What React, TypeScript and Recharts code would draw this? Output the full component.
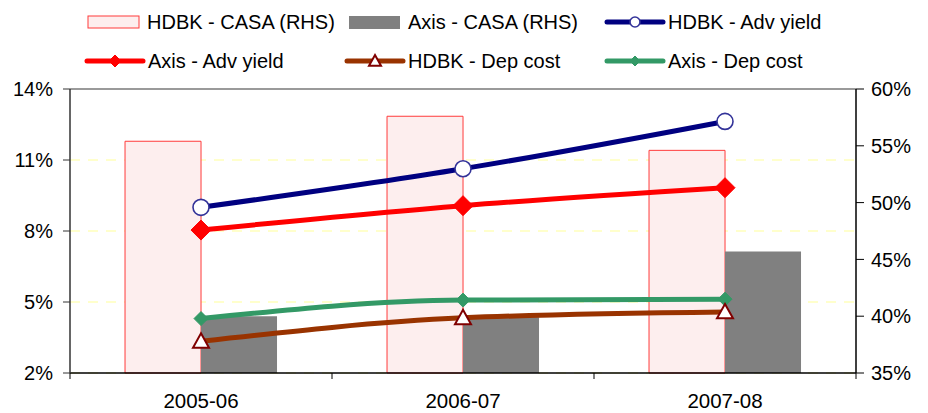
import React from 'react';
import { ComposedChart, Bar, Line, XAxis, YAxis, CartesianGrid, ReferenceLine } from 'recharts';

// Values
const years = ['2005-06', '2006-07', '2007-08'];
const hdbkCasa = [55.4, 57.6, 54.6];
const axisCasa = [40.0, 39.9, 45.7];
const hdbkAdvYield = [9.0, 10.63, 12.63];
const axisAdvYield = [8.04, 9.07, 9.83];
const hdbkDepCost = [3.34, 4.33, 4.58];
const axisDepCost = [4.3, 5.08, 5.12];
const leftTicks = [2, 5, 8, 11, 14];
const rightTicks = [35, 40, 45, 50, 55, 60];

const data = years.map((year, i) => ({
  year,
  hdbkCasa: hdbkCasa[i],
  axisCasa: axisCasa[i],
  hdbkAdvYield: hdbkAdvYield[i],
  axisAdvYield: axisAdvYield[i],
  hdbkDepCost: hdbkDepCost[i],
  axisDepCost: axisDepCost[i],
}));

const FONT = '"Liberation Sans", Arial, sans-serif';

const C = {
  pinkFill: '#FDEEEE',
  pinkStroke: '#FF3B3B',
  gray: '#808080',
  navy: '#000080',
  circleStroke: '#333399',
  red: '#FF0000',
  brown: '#993300',
  triStroke: '#800000',
  green: '#339966',
};

// marker shapes
const circle = (cx: number, cy: number, r: number) => (
  <circle cx={cx} cy={cy} r={r} fill="#fff" stroke={C.circleStroke} strokeWidth={1.6} />
);
const diamond = (cx: number, cy: number, h: number, color: string) => (
  <polygon
    points={`${cx},${cy - h} ${cx + h},${cy} ${cx},${cy + h} ${cx - h},${cy}`}
    fill={color}
    stroke={color}
  />
);
const triangle = (cx: number, cy: number, s: number) => (
  <polygon
    points={`${cx},${cy - s} ${cx + s},${cy + s * 0.8} ${cx - s},${cy + s * 0.8}`}
    fill="#fff"
    stroke={C.triStroke}
    strokeWidth={2}
  />
);

const legendItems = [
  { label: 'HDBK - CASA (RHS)', kind: 'pinkBar', x: 88, row: 0 },
  { label: 'Axis - CASA (RHS)', kind: 'grayBar', x: 349, row: 0 },
  { label: 'HDBK - Adv yield', kind: 'navy', x: 607, row: 0 },
  { label: 'Axis - Adv yield', kind: 'red', x: 87, row: 1 },
  { label: 'HDBK - Dep cost', kind: 'brown', x: 347, row: 1 },
  { label: 'Axis - Dep cost', kind: 'green', x: 607, row: 1 },
];

function LegendIcon({ kind, x, y }: { kind: string; x: number; y: number }) {
  if (kind === 'pinkBar')
    return <rect x={x} y={y - 6} width={51} height={12} fill={C.pinkFill} stroke={C.pinkStroke} strokeWidth={1} />;
  if (kind === 'grayBar') return <rect x={x} y={y - 6} width={51} height={13} fill={C.gray} />;
  const color = { navy: C.navy, red: C.red, brown: C.brown, green: C.green }[kind] as string;
  const mid = x + 28;
  return (
    <g>
      <line x1={x} y1={y} x2={x + 56} y2={y} stroke={color} strokeWidth={5} strokeLinecap="round" />
      {kind === 'navy' && circle(mid, y, 5)}
      {kind === 'red' && diamond(mid, y, 6, C.red)}
      {kind === 'brown' && triangle(mid, y, 6)}
      {kind === 'green' && diamond(mid, y, 5, C.green)}
    </g>
  );
}

function ChartLegend() {
  const rowY = [22, 61];
  return (
    <svg width={928} height={80} style={{ position: 'absolute', left: 0, top: 0 }}>
      {legendItems.map((it) => {
        const y = rowY[it.row];
        const textX = it.kind.endsWith('Bar') ? it.x + 59 : it.x + 61;
        return (
          <g key={it.label}>
            <LegendIcon kind={it.kind} x={it.x} y={y} />
            <text x={textX} y={y} dy="0.36em" fontSize={20} fontFamily={FONT} fill="#000">
              {it.label}
            </text>
          </g>
        );
      })}
    </svg>
  );
}

// category label plus the Excel-style tick marks on the category boundaries
const TICK_MARGIN = 20;
function YearTick(props: any) {
  const { x, y, payload, index, visibleTicksCount } = props;
  const half = payload?.offset ?? 0;
  const axisY = y - TICK_MARGIN;
  const mark = (mx: number) => (
    <line x1={mx} x2={mx} y1={axisY} y2={axisY + 6} stroke="#000" strokeWidth={1} />
  );
  return (
    <g>
      {half > 0 && mark(x - half)}
      {half > 0 && index === visibleTicksCount - 1 && mark(x + half)}
      <text x={x} y={y} dy="0.71em" textAnchor="middle" fontSize={20.5} fontFamily={FONT} fill="#000">
        {payload.value}
      </text>
    </g>
  );
}

export default function App() {
  return (
    <div style={{ position: 'absolute', left: 0, top: 0, width: 928, height: 413, background: '#fff', fontFamily: FONT }}>
      <ChartLegend />
      <ComposedChart
        width={928}
        height={413}
        data={data}
        margin={{ top: 89, right: 0, left: 0, bottom: 0 }}
        barGap={0}
        barCategoryGap="21%"
      >
        <XAxis
          xAxisId="cat"
          dataKey="year"
          height={40}
          tickLine={false}
          tickSize={0}
          tickMargin={TICK_MARGIN}
          axisLine={{ stroke: '#000', strokeWidth: 1.5 }}
          tick={<YearTick />}
        />
        <YAxis
          yAxisId="left"
          width={70}
          domain={[2, 14]}
          ticks={leftTicks}
          tickFormatter={(v) => `${v}%`}
          tickSize={7}
          tickMargin={10}
          axisLine={{ stroke: '#333', strokeWidth: 1.5 }}
          tickLine={{ stroke: '#333' }}
          tick={{ fontSize: 20, fill: '#000', fontFamily: FONT }}
        />
        <YAxis
          yAxisId="right"
          orientation="right"
          width={72}
          domain={[35, 60]}
          ticks={rightTicks}
          tickFormatter={(v) => `${v}%`}
          tickSize={8}
          tickMargin={7}
          axisLine={{ stroke: '#000', strokeWidth: 1.5 }}
          tickLine={{ stroke: '#000' }}
          tick={{ fontSize: 20, fill: '#000', fontFamily: FONT }}
        />
        <CartesianGrid
          xAxisId="cat"
          yAxisId="left"
          vertical={false}
          stroke="#FFFF99"
          strokeDasharray="10 8"
        />
        <ReferenceLine xAxisId="cat" yAxisId="left" y={14} stroke="#9a9a9a" strokeWidth={2} />
        <Bar
          xAxisId="cat"
          yAxisId="right"
          dataKey="hdbkCasa"
          fill={C.pinkFill}
          stroke={C.pinkStroke}
          strokeWidth={1}
          isAnimationActive={false}
        />
        <Bar xAxisId="cat" yAxisId="right" dataKey="axisCasa" fill={C.gray} isAnimationActive={false} />
        <Line
          xAxisId="cat"
          yAxisId="left"
          type="monotone"
          dataKey="hdbkAdvYield"
          stroke={C.navy}
          strokeWidth={5}
          dot={(p: any) => <g key={`hay${p.index}`}>{circle(p.cx, p.cy, 8)}</g>}
          isAnimationActive={false}
        />
        <Line
          xAxisId="cat"
          yAxisId="left"
          type="monotone"
          dataKey="axisAdvYield"
          stroke={C.red}
          strokeWidth={5}
          dot={(p: any) => <g key={`aay${p.index}`}>{diamond(p.cx, p.cy, 10, C.red)}</g>}
          isAnimationActive={false}
        />
        <Line
          xAxisId="cat"
          yAxisId="left"
          type="monotone"
          dataKey="axisDepCost"
          stroke={C.green}
          strokeWidth={5}
          dot={(p: any) => <g key={`adc${p.index}`}>{diamond(p.cx, p.cy, 7, C.green)}</g>}
          isAnimationActive={false}
        />
        <Line
          xAxisId="cat"
          yAxisId="left"
          type="monotone"
          dataKey="hdbkDepCost"
          stroke={C.brown}
          strokeWidth={5}
          dot={(p: any) => <g key={`hdc${p.index}`}>{triangle(p.cx, p.cy, 8)}</g>}
          isAnimationActive={false}
        />
      </ComposedChart>
    </div>
  );
}
